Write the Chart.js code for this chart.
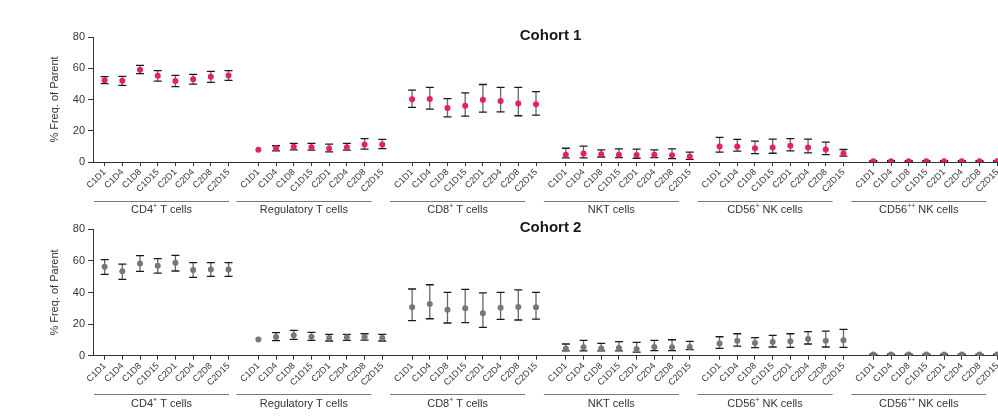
<!DOCTYPE html>
<html><head><meta charset="utf-8">
<script src="https://cdn.jsdelivr.net/npm/chart.js@4"></script>
<style>
html,body{margin:0;padding:0;background:#fff;overflow:hidden;width:998px;height:420px;}
.w{position:absolute;left:0;width:1040px;}
#w1{top:0;height:222px;}
#w2{top:215px;height:205px;}
</style></head><body>
<div class="w" id="w1"><canvas id="c1"></canvas></div>
<div class="w" id="w2"><canvas id="c2"></canvas></div>
<script>
// ---------- data ----------
const timepoints = ['C1D1','C1D4','C1D8','C1D15','C2D1','C2D4','C2D8','C2D15'];
const cellGroups = ['CD4⁺ T cells','Regulatory T cells','CD8⁺ T cells','NKT cells','CD56⁺ NK cells','CD56⁺⁺ NK cells'];
const cohortTitles = ['Cohort 1','Cohort 2'];
const yTicks = [0,20,40,60,80];

// Cohort 1: mean, upper and lower error limits (per cell group, per timepoint)
const c1Mean = [
  [52.4,52.0,59.1,55.2,51.8,52.9,54.6,55.4],
  [7.8,8.8,9.7,9.5,8.6,9.5,11.2,11.2],
  [40.1,40.3,34.5,36.0,39.9,39.0,37.5,36.9],
  [4.7,5.4,5.0,4.7,4.5,4.7,4.3,3.5],
  [9.9,9.9,8.8,9.3,10.4,9.3,8.0,5.4],
  [0.5,0.5,0.5,0.5,0.5,0.5,0.5,0.5]
];
const c1Upper = [
  [54.6,54.8,61.9,58.5,55.4,56.1,58.0,58.5],
  [null,10.4,11.9,11.9,11.4,11.9,14.9,14.5],
  [46.0,47.7,40.6,44.2,49.6,47.7,47.7,45.1],
  [8.8,10.1,7.8,8.4,8.2,7.8,8.4,6.3],
  [15.7,14.5,13.4,14.7,14.9,14.7,12.7,8.0],
  [0.8,0.8,0.8,0.8,0.8,0.8,0.8,0.8]
];
const c1Lower = [
  [50.1,49.0,56.5,51.8,48.3,49.8,50.9,52.2],
  [null,7.1,7.8,7.6,6.5,7.6,8.2,8.6],
  [35.0,33.9,28.9,29.3,31.9,32.1,29.6,30.0],
  [2.6,2.6,3.2,2.8,2.4,2.8,2.2,1.7],
  [6.3,6.9,5.4,5.6,7.1,5.8,4.7,3.7],
  [0.2,0.2,0.2,0.2,0.2,0.2,0.2,0.2]
];
// Cohort 2
const c2Mean = [
  [56.3,53.4,58.4,57.0,58.9,54.2,54.6,54.6],
  [10.3,11.8,12.9,12.0,11.2,11.6,11.8,11.2],
  [30.6,32.7,29.1,30.0,26.8,30.4,30.8,30.6],
  [4.4,5.3,4.6,4.9,4.2,5.5,5.3,5.5],
  [7.8,9.5,8.0,8.6,9.1,10.5,9.5,9.7],
  [0.7,0.7,0.7,0.7,0.7,0.7,0.7,0.7]
];
const c2Upper = [
  [60.8,58.0,63.3,61.4,63.5,58.9,58.9,58.9],
  [null,14.6,16.0,14.8,13.5,13.5,13.9,13.5],
  [42.2,44.9,40.1,42.0,39.7,40.1,41.6,40.1],
  [7.4,9.7,7.8,8.9,8.4,9.7,10.1,9.1],
  [12.0,13.9,11.4,12.9,13.9,15.2,15.6,16.7],
  [1.0,1.0,1.0,1.0,1.0,1.0,1.0,1.0]
];
const c2Lower = [
  [51.5,48.3,53.4,52.3,53.6,49.6,50.2,50.2],
  [null,9.5,10.3,9.7,9.3,9.7,9.9,9.3],
  [22.2,23.4,20.7,20.9,17.9,23.0,22.6,23.2],
  [3.0,3.0,3.0,3.0,2.3,3.2,3.2,3.8],
  [4.6,6.1,5.1,5.5,5.3,7.4,5.5,5.3],
  [0.4,0.4,0.4,0.4,0.4,0.4,0.4,0.4]
];

// ---------- layout constants ----------
const FONT = '"Liberation Sans", Arial, Helvetica, sans-serif';
const STEP_PX = 17.8;          // pixel spacing of timepoints
const GROUP_PITCH = 154.6 / STEP_PX; // group pitch in timepoint units
const X_MIN = -0.657;
const CANVAS_W = 1040;
const X_MAX = X_MIN + (CANVAS_W - 93) / STEP_PX;

function xPos(g, i){ return g * GROUP_PITCH + i; }
const tickPositions = [];
cellGroups.forEach((_, g) => timepoints.forEach((_, i) => tickPositions.push(xPos(g, i))));

function drawSupText(ctx, text, cx, cy, size, color){
  const segs = [];
  for (const ch of text){
    const sup = ch === '⁺';
    const c = sup ? '+' : ch;
    if (segs.length && segs[segs.length-1].sup === sup) segs[segs.length-1].t += c;
    else segs.push({t:c, sup});
  }
  let total = 0;
  segs.forEach(s => {
    ctx.font = (s.sup ? size*0.62 : size) + 'px ' + FONT;
    s.w = ctx.measureText(s.t).width;
    total += s.w;
  });
  let x = cx - total/2;
  ctx.fillStyle = color;
  ctx.textAlign = 'left';
  ctx.textBaseline = 'middle';
  segs.forEach(s => {
    ctx.font = (s.sup ? size*0.62 : size) + 'px ' + FONT;
    ctx.fillText(s.t, x, s.sup ? cy - size*0.32 : cy);
    x += s.w;
  });
}

function makeChart(id, canvasH, chartTop, chartBottom, means, uppers, lowers, color, title, lineY, labelY){
  const pts = [], stems = [], caps = [];
  means.forEach((arr, g) => arr.forEach((m, i) => {
    const x = xPos(g, i);
    pts.push({x, y:m});
    const hi = uppers[g][i], lo = lowers[g][i];
    if (hi !== null && lo !== null){
      stems.push({x, y:lo}); stems.push({x, y:hi}); stems.push({x, y:null});
      caps.push({x, y:hi}); caps.push({x, y:lo});
    }
  }));

  const deco = {
    id: 'deco'+id,
    afterDraw(chart){
      const ctx = chart.ctx, ca = chart.chartArea, xs = chart.scales.x;
      ctx.save();
      // title
      const lastPx = xs.getPixelForValue(tickPositions[tickPositions.length-1]);
      ctx.font = 'bold 15px ' + FONT;
      ctx.fillStyle = '#1a1a1a';
      ctx.textAlign = 'center';
      ctx.textBaseline = 'middle';
      ctx.fillText(title, (ca.left + lastPx + 11)/2, chartTop - 1.5);
      // y axis title
      ctx.save();
      ctx.translate(55, (ca.top + ca.bottom)/2);
      ctx.rotate(-Math.PI/2);
      ctx.font = '11px ' + FONT;
      ctx.fillStyle = '#333';
      ctx.fillText('% Freq. of Parent', 0, 0);
      ctx.restore();
      // group lines + labels
      cellGroups.forEach((name, g) => {
        const first = xs.getPixelForValue(xPos(g, 0));
        const start = Math.max(first - 22, ca.left + 1);
        const end = start + 135;
        ctx.strokeStyle = '#777';
        ctx.lineWidth = 1;
        ctx.beginPath();
        ctx.moveTo(start, lineY + 0.5); ctx.lineTo(end, lineY + 0.5);
        ctx.stroke();
        drawSupText(ctx, name, (start + end)/2, labelY, 11, '#333');
      });
      ctx.restore();
    }
  };

  return new Chart(document.getElementById(id), {
    data: {
      datasets: [
        {type:'line', data: stems, borderColor:'#666', borderWidth:1.3, pointRadius:0, spanGaps:false, order:3},
        {type:'scatter', data: caps, pointStyle:'line', pointRadius:4, borderColor:'#1a1a1a', pointBorderWidth:1.3, order:2},
        {type:'scatter', data: pts, pointStyle:'circle', pointRadius:3, backgroundColor: color, borderWidth:0, order:1}
      ]
    },
    options: {
      responsive: true,
      maintainAspectRatio: false,
      animation: false,
      events: [],
      layout: {padding: {top: chartTop, left: 0, right: 0, bottom: 0}},
      plugins: {legend: {display:false}, tooltip: {enabled:false}, title:{display:false}},
      scales: {
        x: {
          type: 'linear',
          min: X_MIN, max: X_MAX,
          afterBuildTicks: s => { s.ticks = tickPositions.map(v => ({value: v})); },
          afterFit: s => { s.height = canvasH - chartBottom; },
          ticks: {
            autoSkip: false, minRotation: 45, maxRotation: 45, padding: 1,
            color: '#333', font: {family: FONT, size: 9},
            callback: (v, i) => timepoints[i % timepoints.length]
          },
          grid: {display: true, drawOnChartArea: false, drawTicks: true, tickLength: 4, color: '#333', lineWidth: 1},
          border: {display: true, color: '#333', width: 1}
        },
        y: {
          min: 0, max: 80,
          afterBuildTicks: s => { s.ticks = yTicks.map(v => ({value: v})); },
          afterFit: s => { s.width = 93; },
          ticks: {color: '#333', font: {family: FONT, size: 11}, padding: 3},
          grid: {display: true, drawOnChartArea: false, drawTicks: true, tickLength: 5, color: '#333', lineWidth: 1},
          border: {display: true, color: '#333', width: 1}
        }
      }
    },
    plugins: [deco]
  });
}

makeChart('c1', 222, 37, 162, c1Mean, c1Upper, c1Lower, '#e91e63', cohortTitles[0], 201, 210);
makeChart('c2', 205, 14.3, 140.7, c2Mean, c2Upper, c2Lower, '#777777', cohortTitles[1], 179, 189);
</script>
</body></html>
